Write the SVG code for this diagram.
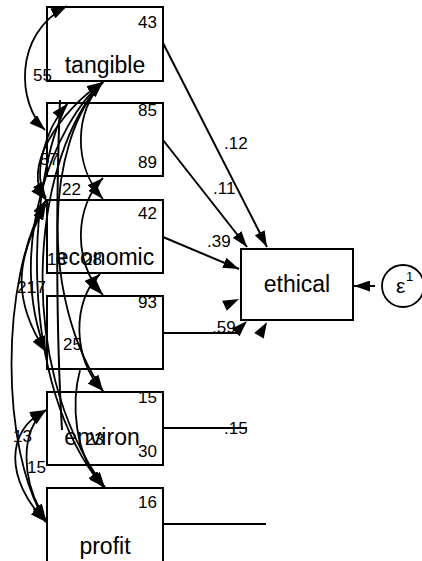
<svg xmlns="http://www.w3.org/2000/svg" width="422" height="561" viewBox="0 0 422 561">
  <style>
    .box { fill: none; stroke: #000; stroke-width: 2; }
    .cov { fill: none; stroke: #000; stroke-width: 1.8; marker-start: url(#ah); marker-end: url(#ah); }
    .cov1 { fill: none; stroke: #000; stroke-width: 1.8; marker-end: url(#ah); }
    .path { fill: none; stroke: #000; stroke-width: 2; }
    .arr { marker-end: url(#ah); }
    .name { font-family: "Liberation Sans", Arial, sans-serif; font-size: 23px; text-anchor: middle; fill: #000; }
    .num { font-family: "Liberation Sans", Arial, sans-serif; font-size: 17px; fill: #000; }
    .numr { font-family: "Liberation Sans", Arial, sans-serif; font-size: 17px; text-anchor: end; fill: #000; }
  </style>
  <defs>
    <marker id="ah" viewBox="0 0 16 11" refX="16" refY="5.5" markerWidth="16" markerHeight="11" markerUnits="userSpaceOnUse" orient="auto-start-reverse">
      <path d="M0,0 L16,5.5 L0,11 Z" fill="#000"/>
    </marker>
    <path id="head" d="M0,0 L-16,-5.5 L-16,5.5 Z" fill="#000"/>
  </defs>

  <rect width="422" height="561" fill="#fff"/>

  <!-- observed variables -->
  <g id="tangible">
    <rect class="box" x="47" y="7" width="116" height="74"/>
    <text class="numr" x="157" y="28">43</text>
    <text class="name" x="105" y="73">tangible</text>
  </g>
  <g id="var2">
    <rect class="box" x="47" y="103" width="116" height="73"/>
    <text class="numr" x="157" y="116">85</text>
    <text class="numr" x="157" y="168">89</text>
  </g>
  <g id="economic">
    <rect class="box" x="47" y="200" width="116" height="73"/>
    <text class="numr" x="157" y="219">42</text>
    <text class="name" x="105" y="265">economic</text>
  </g>
  <g id="var4">
    <rect class="box" x="47" y="296" width="116" height="73"/>
    <text class="numr" x="157" y="308">93</text>
  </g>
  <g id="environ">
    <rect class="box" x="47" y="392" width="116" height="73"/>
    <text class="numr" x="157" y="403">15</text>
    <text class="numr" x="157" y="457">30</text>
    <text class="name" x="102" y="445">environ</text>
  </g>
  <g id="profit">
    <rect class="box" x="47" y="488" width="116" height="80"/>
    <text class="numr" x="157" y="508">16</text>
    <text class="name" x="105" y="554">profit</text>
  </g>
  <g id="ethical">
    <rect class="box" x="241" y="249" width="112" height="71"/>
    <text class="name" x="297" y="292">ethical</text>
  </g>
  <g id="e1">
    <circle cx="403" cy="286" r="21" fill="none" stroke="#000" stroke-width="1.8"/>
    <text x="396" y="293" font-family="Liberation Sans, Arial, sans-serif" font-size="21">ε</text>
    <text x="406" y="281" font-family="Liberation Sans, Arial, sans-serif" font-size="13">1</text>
  </g>

  <!-- connectors -->
  <g id="connectors">
    <!-- structural paths -->
    <path class="path arr" d="M163,43 L267,247"/>
    <path class="path arr" d="M163,140 L247,247"/>
    <path class="path arr" d="M163,237 L239,269"/>
    <path class="path" d="M163,333 L238,333"/>
    <path class="path" d="M163,428 L247,428"/>
    <path class="path" d="M163,524 L266,524"/>
    <use href="#head" transform="translate(239,299) rotate(-25)"/>
    <use href="#head" transform="translate(247,321) rotate(-45)"/>
    <use href="#head" transform="translate(267,322) rotate(-60)"/>
    <path class="path arr" d="M375,286 L354,286"/>

    <!-- covariances -->
    <path class="cov" d="M45,130 C18,105 12,35 67,6"/>
    <path class="cov" d="M103,82 C75,110 72,165 103,199"/>
    <path class="cov" d="M103,178 C75,205 72,262 103,295"/>
    <path class="cov" d="M100,274 C72,300 72,360 103,391"/>
    <path class="cov1" d="M80,370 C72,400 72,455 105,487"/>
    <path class="cov" d="M67,104 C45,130 32,175 46,198"/>
    <path class="cov" d="M103,82 C60,110 20,170 46,200"/>
    <path class="cov" d="M103,82 C55,120 5,250 46,352"/>
    <path class="cov1" d="M103,82 C45,140 40,300 103,391"/>
    <path class="cov1" d="M103,82 C35,150 10,360 105,488"/>
    <path class="cov1" d="M67,104 C28,180 15,380 103,487"/>
    <path class="path" d="M60,100 C56,200 56,330 62,430"/>
    <path class="cov" d="M46,200 C0,280 0,450 46,522"/>
    <path class="cov" d="M46,204 C15,260 12,300 46,352"/>
    <path class="cov" d="M46,410 C5,430 5,480 46,522"/>
    <path class="cov" d="M46,410 C20,430 20,480 46,520"/>

    <!-- covariance labels -->
    <text class="num" x="33" y="81">55</text>
    <text class="num" x="40" y="165">57</text>
    <text class="num" x="62" y="195">22</text>
    <text class="num" x="47" y="265">18</text>
    <text class="num" x="83" y="265">28</text>
    <text class="num" x="17" y="293">21</text>
    <text class="num" x="27" y="293">17</text>
    <text class="num" x="63" y="350">25</text>
    <text class="num" x="85" y="445">23</text>
    <text class="num" x="13" y="442">13</text>
    <text class="num" x="27" y="473">15</text>
    <text class="num" x="224" y="149">.12</text>
    <text class="num" x="213" y="194">.11</text>
    <text class="num" x="207" y="247">.39</text>
    <text class="num" x="212" y="333">.59</text>
    <text class="num" x="224" y="434">.15</text>
  </g>
</svg>
